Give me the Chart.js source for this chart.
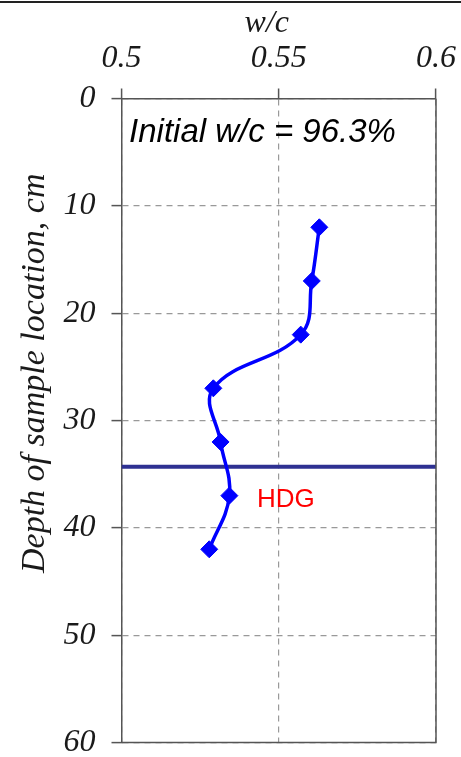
<!DOCTYPE html>
<html>
<head>
<meta charset="utf-8">
<script src="https://cdn.jsdelivr.net/npm/chart.js@4.4.0/dist/chart.umd.min.js"></script>
<style>
  html, body { margin: 0; padding: 0; background: #fff; }
</style>
</head>
<body>
<canvas id="wcChart" width="461" height="757"></canvas>
<script>
// depth of each sample (cm) and its w/c
const depths = [12, 17, 22, 27, 32, 37, 42];
const wcValues = [0.5629, 0.5605, 0.5570, 0.5292, 0.5315, 0.5343, 0.5279];
// HDG level (cm), drawn across the full w/c range
const hdgDepth = [34.3, 34.3];
const hdgWc = [0.5, 0.6];

const xTicks = [0.5, 0.55, 0.6];
const xTickLabels = ['0.5', '0.55', '0.6'];
const yTicks = [0, 10, 20, 30, 40, 50, 60];
const yTickLabels = ['0', '10', '20', '30', '40', '50', '60'];

const serif = '"Liberation Serif", "Times New Roman", serif';
const sans = '"Liberation Sans", Arial, sans-serif';

// frame, top rule, axis titles and the two notes
const extras = {
    id: 'extras',
    afterDraw(chart) {
        const { ctx, chartArea: a, scales: { x, y } } = chart;
        ctx.save();
        ctx.strokeStyle = '#555';
        ctx.lineWidth = 1.5;
        ctx.beginPath();
        ctx.moveTo(a.right, a.top);
        ctx.lineTo(a.right, a.bottom);
        ctx.lineTo(a.left, a.bottom);
        ctx.stroke();

        ctx.strokeStyle = '#222';
        ctx.lineWidth = 2;
        ctx.beginPath();
        ctx.moveTo(0, 2);
        ctx.lineTo(chart.width, 2);
        ctx.stroke();

        // axis titles
        ctx.fillStyle = '#1a1a1a';
        ctx.textAlign = 'center';
        ctx.textBaseline = 'alphabetic';
        ctx.font = 'italic 32px ' + serif;
        ctx.fillText('w/c', x.getPixelForValue(0.5462), 32);
        ctx.save();
        ctx.translate(44, y.getPixelForValue(25.6));
        ctx.rotate(-Math.PI / 2);
        ctx.font = 'italic 34px ' + serif;
        ctx.fillText('Depth of sample location, cm', 0, 0);
        ctx.restore();

        ctx.textAlign = 'left';
        ctx.fillStyle = '#000';
        ctx.font = 'italic 33px ' + sans;
        ctx.fillText('Initial w/c = 96.3%', x.getPixelForValue(0.5024), y.getPixelForValue(4.05));
        ctx.fillStyle = '#ff0000';
        ctx.font = '26px ' + sans;
        ctx.fillText('HDG', x.getPixelForValue(0.5431), y.getPixelForValue(38.06));
        ctx.restore();
    }
};

const ctx = document.getElementById('wcChart').getContext('2d');
new Chart(ctx, {
    type: 'scatter',
    data: {
        datasets: [{
            data: depths.map((d, i) => ({ x: wcValues[i], y: d })),
            showLine: true,
            tension: 0.4,
            borderColor: '#0000ff',
            backgroundColor: '#0000ff',
            borderWidth: 3.5,
            pointStyle: 'rectRot',
            pointRadius: 8.5,
            pointBorderWidth: 1,
            order: 1
        }, {
            data: hdgDepth.map((d, i) => ({ x: hdgWc[i], y: d })),
            showLine: true,
            borderColor: '#2e3192',
            borderWidth: 4,
            pointRadius: 0,
            order: 2
        }]
    },
    options: {
        responsive: false,
        animation: false,
        layout: { padding: { left: 0, top: 0, right: 25, bottom: 14.5 } },
        plugins: { legend: { display: false }, tooltip: { enabled: false } },
        scales: {
            x: {
                type: 'linear',
                position: 'top',
                min: 0.5,
                max: 0.6,
                afterBuildTicks: s => { s.ticks = xTicks.map(v => ({ value: v })); },
                afterFit: s => { s.height = 98.5; s.paddingLeft = 0; s.paddingRight = 0; },
                ticks: {
                    callback: (v, i) => xTickLabels[i],
                    font: { family: serif, style: 'italic', size: 32 },
                    color: '#1a1a1a',
                    padding: 11,
                    maxRotation: 0
                },
                grid: { color: '#999', lineWidth: 1.2, tickLength: 10, tickColor: '#555', tickWidth: 1.5 },
                border: { color: '#555', width: 1.5, dash: [6, 5] }
            },
            y: {
                type: 'linear',
                reverse: true,
                min: 0,
                max: 60,
                afterBuildTicks: s => { s.ticks = yTicks.map(v => ({ value: v })); },
                afterFit: s => { s.width = 121.5; s.paddingTop = 0; s.paddingBottom = 0; },
                ticks: {
                    callback: (v, i) => yTickLabels[i],
                    font: { family: serif, style: 'italic', size: 32 },
                    color: '#1a1a1a',
                    padding: 16
                },
                grid: { color: '#999', lineWidth: 1.2, tickLength: 10, tickColor: '#555', tickWidth: 1.5 },
                border: { color: '#555', width: 1.5, dash: [6, 5] }
            }
        }
    },
    plugins: [extras]
});
</script>
</body>
</html>
